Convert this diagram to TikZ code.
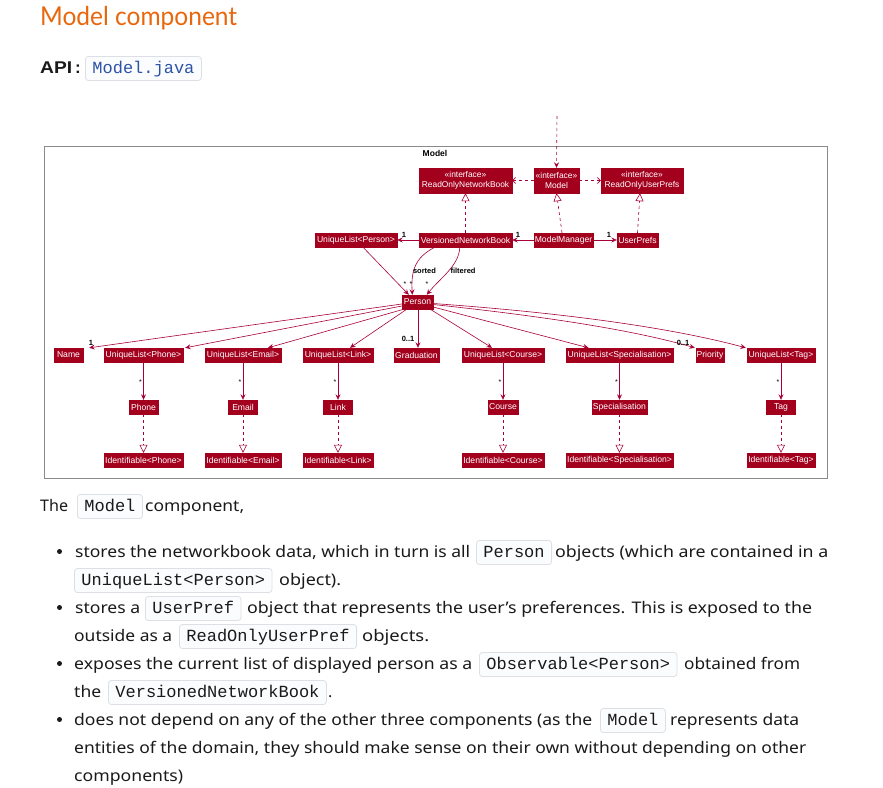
\documentclass[tikz,border=0pt]{standalone}
\usepackage{fontspec}
\usepackage{graphicx}
\setmainfont{Noto Sans}
\setmonofont{Liberation Mono}
\newfontfamily\umlfont{Liberation Sans}
\newfontfamily\headfont{Lato}
\usetikzlibrary{arrows.meta,calc}

\definecolor{headorange}{HTML}{E8670C}
\definecolor{umlred}{HTML}{A3001E}
\definecolor{umlline}{HTML}{A80036}
\definecolor{framegray}{HTML}{8A8A8A}
\definecolor{codebg}{HTML}{FBFCFD}
\definecolor{codeborder}{HTML}{DCE0E5}
\definecolor{bodytext}{HTML}{1A1A1A}
\definecolor{apiblue}{HTML}{2C53A6}

% squeeze or stretch a text horizontally to a given width (in pt)
\newcommand\fitw[2]{\resizebox{#1pt}{\height}{#2}}

\begin{document}
\begin{tikzpicture}[x=1pt,y=-1pt,
  headtxt/.style={anchor=base west, inner sep=0pt, text=headorange,
    font=\headfont\fontsize{26}{30}\selectfont},
  apitxt/.style={anchor=base west, inner sep=0pt, text=bodytext,
    font=\umlfont\bfseries\fontsize{17}{20}\selectfont},
  bodytxt/.style={anchor=base west, inner sep=0pt, text=bodytext,
    font=\fontsize{16}{20}\selectfont},
  bullet/.style={circle, fill=bodytext, inner sep=0pt, minimum size=5pt},
  codechip/.style={anchor=base west, draw=codeborder, fill=codebg,
    rounded corners=3pt, line width=0.8pt, inner xsep=7pt, inner ysep=4pt,
    text height=12.5pt, text depth=3.5pt, text=bodytext,
    font=\ttfamily\fontsize{17}{20}\selectfont},
  umlbox/.style={fill=umlred, draw=umlred, text=white, inner sep=0pt,
    minimum height=14pt, font=\umlfont\fontsize{8.6}{9}\selectfont},
  iface/.style={umlbox, minimum height=25pt, align=center,
    font=\umlfont\fontsize{8.4}{9.6}\selectfont},
  mult/.style={inner sep=0pt, text=black,
    font=\umlfont\bfseries\fontsize{7.5}{8}\selectfont},
  star/.style={inner sep=0pt, text=black,
    font=\umlfont\fontsize{7}{8}\selectfont},
  assoc/.style={draw=umlline, line width=0.6pt,
    -{Stealth[length=5.5pt,width=5pt,inset=2pt]}},
  depend/.style={draw=umlline, line width=0.6pt, dash pattern=on 3pt off 3pt,
    -{Straight Barb[length=3pt,width=6pt]}},
  dependfill/.style={draw=umlline, line width=0.6pt, dash pattern=on 3pt off 3pt,
    -{Stealth[length=5.5pt,width=5pt,inset=2pt]}},
  realize/.style={draw=umlline, line width=0.6pt, dash pattern=on 3pt off 3pt,
    -{Triangle[open,length=8pt,width=8pt,fill=white]}}
]
\path[use as bounding box, fill=white] (0,0) rectangle (883,787);

% ---------- page heading ----------
\node[headtxt] (head) at (40,26) {\fitw{197}{Model component}};
\node[apitxt] (api) at (40,73) {\fitw{32}{API}};
\node[apitxt] (apicolon) at (75,73) {:};
\node[codechip, text=apiblue] (apifile) at (85,73) {Model.java};

% ---------- class diagram ----------
\node[draw=framegray, line width=0.8pt, minimum width=783pt, minimum height=332pt,
      inner sep=0pt] (pkg) at (435.5,312) {};
\node[inner sep=0pt, font=\umlfont\bfseries\fontsize{8.5}{9}\selectfont]
  (pkgtitle) at (435,153) {Model};

% interfaces
\node[iface, minimum width=93pt] (ronb) at (465.5,180.5) {«interface»\\ReadOnlyNetworkBook};
\node[iface, minimum width=45pt] (model) at (556.5,180.5) {«interface»\\Model};
\node[iface, minimum width=82pt] (roup) at (642,180.5) {«interface»\\ReadOnlyUserPrefs};

% managers
\node[umlbox, minimum width=82pt] (ulp) at (356,240) {UniqueList<Person>};
\node[umlbox, minimum width=93pt] (vnb) at (465.5,240) {VersionedNetworkBook};
\node[umlbox, minimum width=59pt] (mm) at (563.5,240) {ModelManager};
\node[umlbox, minimum width=41pt] (up) at (637.5,240) {UserPrefs};

\node[umlbox, minimum width=31pt] (person) at (417.5,302) {Person};

% attributes of Person
\node[umlbox, minimum width=29pt]  (name) at (68.5,355) {Name};
\node[umlbox, minimum width=79pt]  (ulph) at (143.5,355) {UniqueList<Phone>};
\node[umlbox, minimum width=76pt]  (ulem) at (243,355) {UniqueList<Email>};
\node[umlbox, minimum width=70pt]  (ulli) at (338,355) {UniqueList<Link>};
\node[umlbox, minimum width=45pt]  (grad) at (416.5,355) {Graduation};
\node[umlbox, minimum width=82pt]  (ulco) at (503,355) {UniqueList<Course>};
\node[umlbox, minimum width=107pt] (ulsp) at (619.5,355) {UniqueList<Specialisation>};
\node[umlbox, minimum width=28pt]  (prio) at (710,355) {Priority};
\node[umlbox, minimum width=68pt]  (ulta) at (781,355) {UniqueList<Tag>};

\node[umlbox, minimum width=29pt] (phone)  at (143.5,407) {Phone};
\node[umlbox, minimum width=29pt] (email)  at (243,407) {Email};
\node[umlbox, minimum width=29pt] (link)   at (338,407) {Link};
\node[umlbox, minimum width=30pt] (course) at (503,407) {Course};
\node[umlbox, minimum width=55pt] (spec)   at (619.5,407) {Specialisation};
\node[umlbox, minimum width=29pt] (tag)    at (781,407) {Tag};

\node[umlbox, minimum width=79pt]  (idph) at (143.5,460) {Identifiable<Phone>};
\node[umlbox, minimum width=76pt]  (idem) at (243,460) {Identifiable<Email>};
\node[umlbox, minimum width=70pt]  (idli) at (338,460) {Identifiable<Link>};
\node[umlbox, minimum width=82pt]  (idco) at (503,460) {Identifiable<Course>};
\node[umlbox, minimum width=107pt] (idsp) at (619.5,460) {Identifiable<Specialisation>};
\node[umlbox, minimum width=68pt]  (idta) at (781,460) {Identifiable<Tag>};

% connectors between the interfaces
\coordinate (ext) at (557,116);
\draw[dependfill] (ext) -- (model.north);
\draw[depend] (model.west) -- (ronb.east);
\draw[depend] (model.east) -- (roup.west);
\draw[realize] (vnb.north) -- (ronb.south);
\draw[realize] ($(mm.north)+(-1.5,0)$) -- (model.south);
\draw[realize] (up.north) -- ($(roup.south)+(-2,0)$);

% ownership
\draw[assoc] (vnb.west) -- (ulp.east);
\draw[assoc] (mm.west) -- (vnb.east);
\draw[assoc] (mm.east) -- (up.west);
\node[mult] (m1) at (404,234.5) {1};
\node[mult] (m2) at (518,234.5) {1};
\node[mult] (m3) at (609,234.5) {1};

% lists of persons
\draw[assoc] ($(ulp.south)+(7,0)$) -- ($(person.north west)+(7,0)$);
\draw[assoc] ($(vnb.south west)+(16,0)$) .. controls (414,258) and (411,272) .. ($(person.north west)+(10.5,0)$);
\draw[assoc] ($(vnb.south west)+(41,0)$) .. controls (459,266) and (440,278) .. ($(person.north west)+(25,0)$);
\node[star] (s1) at (405,284.5) {*};
\node[star] (s2) at (411,284.5) {*};
\node[star] (s3) at (427,284.5) {*};
\node[mult] (sortedlbl) at (424.5,271) {sorted};
\node[mult] (filteredlbl) at (463,271) {filtered};

% attributes of a person
\draw[assoc] ($(person.west)+(0,2)$) -- ($(name.north east)+(6,0)$);
\draw[assoc] ($(person.west)+(0,4)$) -- ($(ulph.north east)+(2,0)$);
\draw[assoc] ($(person.south west)+(2,0)$) -- ($(ulem.north)+(25,0)$);
\draw[assoc] ($(person.south west)+(5,0)$) -- ($(ulli.north)+(12,0)$);
\draw[assoc] ($(person.south)+(0.5,0)$) -- ($(grad.north)+(1.5,0)$);
\draw[assoc] ($(person.south east)+(-3,0)$) -- ($(ulco.north)+(-11,0)$);
\draw[assoc] ($(person.east)+(0,5)$) -- ($(ulsp.north)+(-31,0)$);
\draw[assoc] ($(person.east)+(0,2.5)$) .. controls (560,318) and (640,332) .. ($(prio.north west)+(-1,0)$);
\draw[assoc] ($(person.east)+(0,1.5)$) .. controls (580,314) and (680,330) .. ($(ulta.north west)+(-1,0)$);
\node[mult] (mname) at (91,343) {1};
\node[mult] (mgrad) at (408,339) {0..1};
\node[mult] (mprio) at (683,343) {0..1};

% list contents and their identity interfaces
\foreach \lst/\item/\ident in {ulph/phone/idph, ulem/email/idem, ulli/link/idli,
                               ulco/course/idco, ulsp/spec/idsp, ulta/tag/idta}{
  \draw[assoc] (\lst.south) -- (\item.north);
  \node[star] at ($(\item.north)+(-3,-18)$) {*};
  \draw[realize] (\item.south) -- (\ident.north);
}

% ---------- description ----------
\node[bodytxt] (l0a) at (40,511) {\fitw{28}{The}};
\node[codechip] (l0b) at (77,511) {Model};
\node[bodytxt] (l0c) at (145,511) {\fitw{99}{component,}};

\node[bullet] (b1) at (59.5,551.5) {};
\node[bodytxt] (l1a) at (75,557) {\fitw{395}{stores the networkbook data, which in turn is all}};
\node[codechip] (l1b) at (476,557) {Person};
\node[bodytxt] (l1c) at (555,557) {\fitw{273}{objects (which are contained in a}};
\node[codechip] (l2a) at (74,585) {UniqueList<Person>};
\node[bodytxt] (l2b) at (279,585) {\fitw{62}{object).}};

\node[bullet] (b2) at (59.5,607.5) {};
\node[bodytxt] (l3a) at (75,613) {\fitw{65}{stores a}};
\node[codechip] (l3b) at (145,613) {UserPref};
\node[bodytxt] (l3c) at (247,613) {\fitw{565}{object that represents the user’s preferences. This is exposed to the}};
\node[bodytxt] (l4a) at (74,641) {\fitw{98}{outside as a}};
\node[codechip] (l4b) at (179,641) {ReadOnlyUserPref};
\node[bodytxt] (l4c) at (362,641) {\fitw{67}{objects.}};

\node[bullet] (b3) at (59.5,663.5) {};
\node[bodytxt] (l5a) at (74,669) {\fitw{398}{exposes the current list of displayed person as a}};
\node[codechip] (l5b) at (479,669) {Observable<Person>};
\node[bodytxt] (l5c) at (684,669) {\fitw{116}{obtained from}};
\node[bodytxt] (l6a) at (74,697) {\fitw{27}{the}};
\node[codechip] (l6b) at (108,697) {VersionedNetworkBook};
\node[bodytxt] (l6c) at (328,697) {.};

\node[bullet] (b4) at (59.5,719.5) {};
\node[bodytxt] (l7a) at (74,725) {\fitw{518}{does not depend on any of the other three components (as the}};
\node[codechip] (l7b) at (600,725) {Model};
\node[bodytxt] (l7c) at (670,725) {\fitw{129}{represents data}};
\node[bodytxt] (l8) at (74,753) {\fitw{732}{entities of the domain, they should make sense on their own without depending on other}};
\node[bodytxt] (l9) at (74,781) {\fitw{109}{components)}};
\end{tikzpicture}
\end{document}
